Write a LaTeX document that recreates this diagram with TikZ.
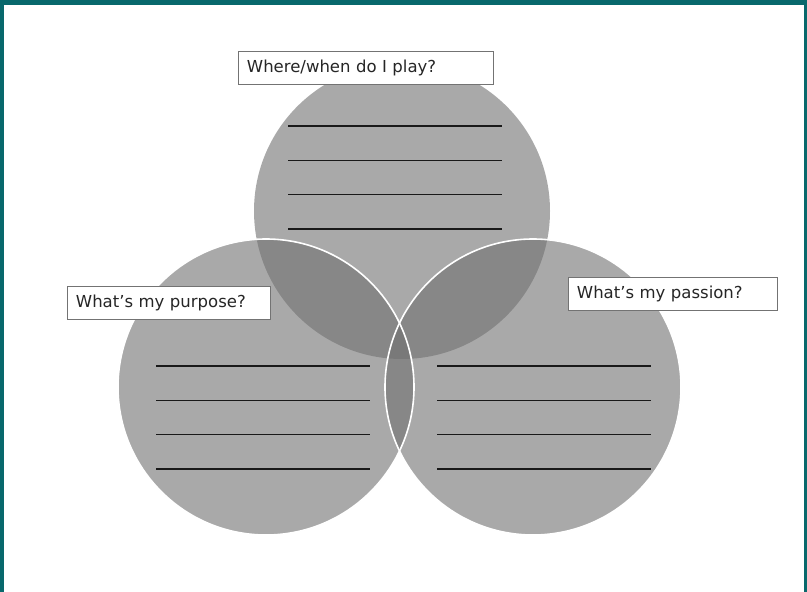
\documentclass[tikz,border=0pt]{standalone}
\usepackage{fontspec}
\setmainfont{DejaVu Sans}
\usetikzlibrary{calc}
\definecolor{frame}{RGB}{8,104,108}
\definecolor{disc}{RGB}{113,113,113}

\begin{document}
\begin{tikzpicture}[
        x=1pt, y=-1pt,
        ring/.style={circle, minimum size=296pt, inner sep=0pt, fill=disc, fill opacity=0.6},
        rim/.style={draw=white, line width=1.6pt},
        blank/.style={line width=1.5pt, black!90},
        question/.style={draw=black!55, line width=0.9pt, fill=white, anchor=north west,
            minimum height=33pt, inner xsep=8.5pt, align=left, text=black!85,
            font=\fontsize{16.5}{19}\selectfont}
    ]
    \fill[frame] (0,0) rectangle (807,592);
    \fill[white] (4,5) rectangle (804,592);

    \node[ring] (play) at (402,211) {};
    \node[ring] (purpose) at (266,387) {};
    \node[ring] (passion) at (533,387) {};
    \draw[rim] (purpose.center) circle[radius=148pt];
    \draw[rim] (passion.center) circle[radius=148pt];

    \foreach \x/\y in {288/126, 156/366, 437/366}
        \foreach \k in {0,...,3}
            \draw[blank] (\x,\y+34.3*\k) -- ++(214,0);

    \node[question, text width=238pt] (play label) at (238,51) {Where/when do I play?};
    \node[question, text width=186pt] (purpose label) at (67,286) {What’s my purpose?};
    \node[question, text width=192pt] (passion label) at (568,277) {What’s my passion?};
\end{tikzpicture}
\end{document}
